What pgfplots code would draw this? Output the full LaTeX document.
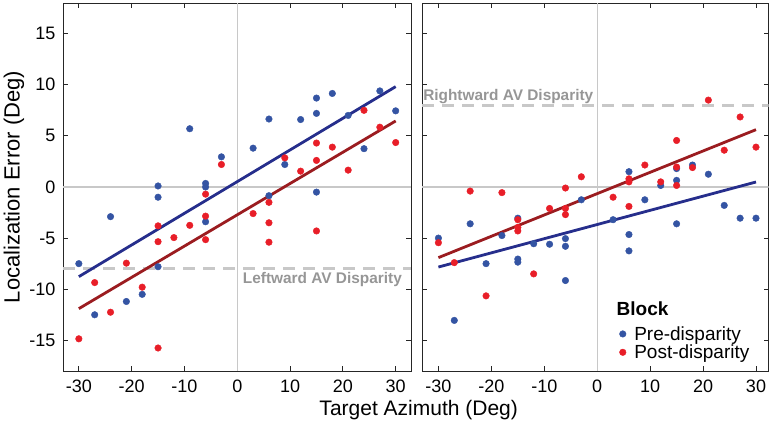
\documentclass[border=0pt]{standalone}
\usepackage{pgfplots}
\pgfplotsset{compat=1.18}
\usepackage{fontspec}
\setmainfont{Liberation Sans}
\definecolor{dotblue}{RGB}{52,84,163}
\definecolor{dotred}{RGB}{232,30,40}
\definecolor{lineblue}{RGB}{38,46,140}
\definecolor{linered}{RGB}{155,28,32}
\definecolor{dashgray}{RGB}{200,200,200}
\definecolor{zerogray}{RGB}{200,200,200}
\definecolor{labelgray}{RGB}{150,150,150}
\definecolor{axisgray}{RGB}{38,38,38}

\pgfplotstableread{
x y
-30 -7.5
-27 -12.5
-24 -2.9
-21 -11.2
-18 -10.5
-15 0.1
-15 -1.0
-15 -7.8
-9 5.7
-6 0.35
-6 0.0
-6 -3.4
-3 2.95
3 3.8
6 6.65
6 -0.85
9 2.2
12 6.6
15 8.7
15 7.2
15 -0.5
18 9.15
21 7.0
24 3.75
27 9.4
30 7.45
}\leftpre

\pgfplotstableread{
x y
-30 -14.85
-27 -9.35
-24 -12.25
-21 -7.45
-18 -9.8
-15 -3.8
-15 -5.35
-15 -15.75
-12 -4.95
-9 -3.75
-6 -0.7
-6 -2.85
-6 -5.15
-3 2.2
3 -2.6
6 -1.5
6 -3.5
6 -5.4
9 2.85
12 1.55
15 4.3
15 2.6
15 -4.3
18 3.9
21 1.65
24 7.5
27 5.85
30 4.35
}\leftpost

\pgfplotstableread{
x y
-30 -5.0
-27 -13.05
-24 -3.6
-21 -7.5
-18 -4.75
-15 -3.05
-15 -7.05
-15 -7.35
-12 -5.55
-9 -5.6
-6 -5.05
-6 -5.8
-6 -9.15
-3 -1.25
3 -3.2
6 1.5
6 -4.65
6 -6.25
9 -1.25
12 0.15
15 1.8
15 0.65
15 -3.6
18 2.15
21 1.25
24 -1.8
27 -3.05
30 -3.05
}\rightpre

\pgfplotstableread{
x y
-30 -5.45
-27 -7.4
-24 -0.4
-21 -10.65
-18 -0.55
-15 -3.2
-15 -3.95
-15 -4.3
-12 -8.5
-9 -2.1
-6 -0.1
-6 -2.1
-6 -2.7
-3 1.0
3 -1.0
6 0.8
6 0.5
6 -1.9
9 2.15
12 0.5
15 4.55
15 1.95
15 0.15
18 1.9
21 8.5
24 3.6
27 6.85
30 3.9
}\rightpost

\begin{document}
\begin{tikzpicture}
\pgfplotsset{
  panel/.style={
    scale only axis,
    height=368bp,
    ymin=-18, ymax=18,
    xtick={-30,-20,-10,0,10,20,30},
    xticklabels={-30,-20,-10,0,10,20,30},
    ytick={-15,-10,-5,0,5,10,15},
    tick align=inside,
    major tick length=5bp,
    axis line style={draw=axisgray, line width=0.8bp},
    tick style={axisgray, line width=0.8bp},
    ticklabel style={font=\fontsize{18bp}{21bp}\selectfont, text=black},
    xticklabel style={yshift=-5.5bp},
    yticklabel style={xshift=-4bp},
  },
  dots/.style={only marks, mark=*, mark size=3.3bp, color=#1, mark options={solid, draw=#1, fill=#1, line width=0.4bp}},
  fitline/.style={no marks, line width=2.8bp, #1},
  zeroline/.style={no marks, zerogray, line width=1.2bp, forget plot},
  dashline/.style={no marks, dashgray, line width=3bp, dash pattern=on 12bp off 8bp, forget plot},
}

\begin{axis}[panel,
  at={(63bp,52bp)}, anchor=south west,
  width=348bp, xmin=-33, xmax=32.9,
  yticklabels={-15,-10,-5,0,5,10,15},
  xlabel={Target Azimuth (Deg)},
  xlabel style={at={(rel axis cs:1.0221,-0.1215)}, anchor=base, font=\fontsize{21bp}{24bp}\selectfont},
  ylabel={Localization Error (Deg)},
  ylabel style={at={(rel axis cs:-0.1408,0.5)}, anchor=center, rotate=0, font=\fontsize{22bp}{25bp}\selectfont},
]
\addplot[zeroline] coordinates {(0,-18) (0,18)};
\addplot[zeroline] coordinates {(-33,0) (32.9,0)};
\addplot[dashline] coordinates {(-33,-8) (32.9,-8)};
\addplot[dots=dotblue] table[x=x,y=y] {\leftpre};
\addplot[dots=dotred] table[x=x,y=y] {\leftpost};
\addplot[fitline=lineblue] coordinates {(-30,-8.77) (30,9.82)};
\addplot[fitline=linered] coordinates {(-30,-11.9) (30,6.46)};
\node[anchor=base east, inner sep=0, text=labelgray, font=\bfseries\fontsize{15.4bp}{18bp}\selectfont] at (axis cs:31.2,-9.45) {Leftward AV Disparity};
\end{axis}

\begin{axis}[panel,
  at={(422bp,52bp)}, anchor=south west,
  width=346.7bp, xmin=-33.1, xmax=32.4,
  yticklabels={},
  legend style={draw=none, fill=none, inner sep=0pt, at={(rel axis cs:0.569,0.1247)}, anchor=north west,
    font=\fontsize{19bp}{21bp}\selectfont, nodes={inner sep=1bp}, row sep=1.1bp, column sep=7.2bp},
  legend cell align=left,
  legend image code/.code={\draw[#1, mark repeat=2, mark phase=2] plot coordinates {(0bp,0bp) (4bp,0bp) (8bp,0bp)};},
]
\addplot[zeroline] coordinates {(0,-18) (0,18)};
\addplot[zeroline] coordinates {(-33.1,0) (32.4,0)};
\addplot[dashline] coordinates {(-33.1,8) (32.4,8)};
\addplot[dots=dotblue] table[x=x,y=y] {\rightpre};
\addlegendentry{Pre-disparity}
\addplot[dots=dotred] table[x=x,y=y] {\rightpost};
\addlegendentry{Post-disparity}
\addplot[fitline=linered, forget plot] coordinates {(-30,-6.91) (30,5.61)};
\addplot[fitline=lineblue, forget plot] coordinates {(-30,-7.83) (30,0.49)};
\node[anchor=base west, inner sep=0, text=labelgray, font=\bfseries\fontsize{15.4bp}{18bp}\selectfont] at (axis cs:-32.9,8.48) {Rightward AV Disparity};
\node[anchor=base west, inner sep=0, font=\bfseries\fontsize{19bp}{21bp}\selectfont] at (axis cs:3.65,-12.55) {Block};
\end{axis}

\pgfresetboundingbox
\path (0,0) rectangle (776bp,423bp);
\end{tikzpicture}
\end{document}
